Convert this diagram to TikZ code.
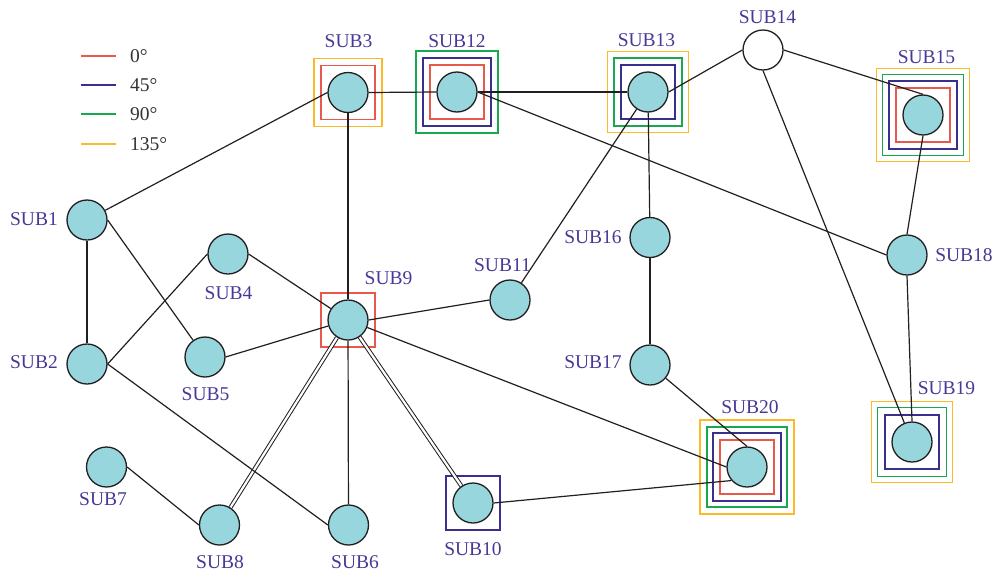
\documentclass[tikz,border=0pt]{standalone}
\usepackage{fontspec}
\setmainfont{Liberation Serif}
\usetikzlibrary{calc}
\definecolor{edgecol}{RGB}{35,31,32}
\definecolor{subfill}{RGB}{152,214,222}
\definecolor{lblcol}{RGB}{70,58,150}
\definecolor{legtext}{RGB}{51,51,51}
\definecolor{czero}{RGB}{232,88,76}
\definecolor{cfortyfive}{RGB}{56,48,140}
\definecolor{cninety}{RGB}{24,168,80}
\definecolor{conethirtyfive}{RGB}{252,186,40}
\pgfdeclarelayer{frames}
\pgfdeclarelayer{links}
\pgfsetlayers{frames,links,main}
\begin{document}
\begin{tikzpicture}[x=1pt,y=-1pt,
  sub/.style={circle, draw=edgecol, fill=subfill, line width=1.3pt,
    minimum size=40pt, inner sep=0pt},
  hub/.style={sub, fill=white},
  lbl/.style={text=lblcol, font=\fontsize{19.5}{21}\selectfont, inner sep=0pt},
  legtxt/.style={text=legtext, font=\fontsize{19.5}{21}\selectfont, inner sep=0pt, anchor=west},
  link/.style={draw=edgecol, line width=1.2pt},
  dlink/.style={draw=edgecol, line width=1pt, double=white, double distance=2.2pt},
  ring/.style 2 args={rectangle, draw=#1, line width=1.3pt, inner sep=0pt,
    minimum size=#2}
]
\useasboundingbox (0,0) rectangle (999,576);

% legend
\foreach \y/\c/\t [count=\i] in {56/czero/0, 85/cfortyfive/45, 114/cninety/90, 144/conethirtyfive/135}{
  \coordinate (la\i) at (81,\y);
  \coordinate (lb\i) at (116,\y);
  \draw[\c, line width=1.3pt] (la\i) -- (lb\i);
  \node[legtxt] (lt\i) at (130,\y) {\t°};
}

% substations
\node[sub] (s1)  at (87,220)  {};
\node[sub] (s2)  at (87,364)  {};
\node[sub] (s3)  at (348,92.5) {};
\node[sub] (s4)  at (228,254) {};
\node[sub] (s5)  at (205,357) {};
\node[sub] (s6)  at (348.5,525) {};
\node[sub] (s7)  at (106.5,467) {};
\node[sub] (s8)  at (219.5,525) {};
\node[sub] (s9)  at (348,320) {};
\node[sub] (s10) at (473,503) {};
\node[sub] (s11) at (510,300) {};
\node[sub] (s12) at (457,92)  {};
\node[sub] (s13) at (648,92)  {};
\node[hub] (s14) at (763,50)  {};
\node[sub] (s15) at (923,115) {};
\node[sub] (s16) at (650,237.5) {};
\node[sub] (s17) at (650,365) {};
\node[sub] (s18) at (907,255) {};
\node[sub] (s19) at (912,442) {};
\node[sub] (s20) at (747,467) {};

% labels
\node[lbl] (n1)  at (34,219)    {SUB1};
\node[lbl] (n2)  at (34,362)    {SUB2};
\node[lbl] (n3)  at (348.5,41)  {SUB3};
\node[lbl] (n4)  at (228.5,293) {SUB4};
\node[lbl] (n5)  at (205.5,394) {SUB5};
\node[lbl] (n6)  at (355,562)   {SUB6};
\node[lbl] (n7)  at (103,499)   {SUB7};
\node[lbl] (n8)  at (220,562)   {SUB8};
\node[lbl] (n9)  at (388.5,278) {SUB9};
\node[lbl] (n10) at (473,549)   {SUB10};
\node[lbl] (n11) at (502.5,265) {SUB11};
\node[lbl] (n12) at (457,41)    {SUB12};
\node[lbl] (n13) at (646.5,40)  {SUB13};
\node[lbl] (n14) at (767.5,17)  {SUB14};
\node[lbl] (n15) at (926.5,57)  {SUB15};
\node[lbl] (n16) at (593,237)   {SUB16};
\node[lbl] (n17) at (593,362)   {SUB17};
\node[lbl] (n18) at (964,255)   {SUB18};
\node[lbl] (n19) at (946.5,388) {SUB19};
\node[lbl] (n20) at (750,407)   {SUB20};

% angle frames around substations
\begin{pgfonlayer}{frames}
  \node[ring={czero}{54pt}] (f3a) at (s3.center) {};
  \node[ring={conethirtyfive}{68pt}] (f3b) at (s3.center) {};
  \node[ring={czero}{54pt}] (f9a) at (s9.center) {};
  \node[ring={czero}{54pt}] (f12a) at (s12.center) {};
  \node[ring={cfortyfive}{68pt}] (f12b) at (s12.center) {};
  \node[ring={cninety}{82pt}] (f12c) at (s12.center) {};
  \node[ring={cfortyfive}{54pt}] (f13a) at (s13.center) {};
  \node[ring={cninety}{68pt}] (f13b) at (s13.center) {};
  \node[ring={conethirtyfive}{81pt}] (f13c) at (s13.center) {};
  \node[ring={czero}{54pt}] (f15a) at (s15.center) {};
  \node[ring={cfortyfive}{68pt}] (f15b) at (s15.center) {};
  \node[ring={cninety}{81pt}] (f15c) at (s15.center) {};
  \node[ring={conethirtyfive}{93pt}] (f15d) at (s15.center) {};
  \node[ring={cfortyfive}{54pt}] (f19a) at (s19.center) {};
  \node[ring={cninety}{69pt}] (f19b) at (s19.center) {};
  \node[ring={conethirtyfive}{81pt}] (f19c) at (s19.center) {};
  \node[ring={czero}{54pt}] (f20a) at (s20.center) {};
  \node[ring={cfortyfive}{68pt}] (f20b) at (s20.center) {};
  \node[ring={cninety}{80pt}] (f20c) at (s20.center) {};
  \node[ring={conethirtyfive}{94pt}] (f20d) at (s20.center) {};
  \node[ring={cfortyfive}{54pt}] (f10a) at (s10.center) {};
\end{pgfonlayer}

% connections
\begin{pgfonlayer}{links}
  \draw[dlink] (s9) -- (s8);
  \draw[dlink] (s9) -- (s10);
  \draw[link] (s1) -- (s3.west);
  \draw[link] (s1) -- (s2);
  \draw[link] (s1.east) -- (s5);
  \draw[link] (s2.east) -- (s4.west);
  \draw[link] (s2.east) -- (s6.west);
  \draw[link] (s3.east) -- (s12.west);
  \draw[link] (s3) -- (s9);
  \draw[link] (s12.east) -- (s13.west);
  \draw[link] (s12.east) -- (s18.west);
  \draw[link] (s13.east) -- (s14.west);
  \draw[link] (s13) -- (s11);
  \draw[link] (s13) -- (s16);
  \draw[link] (s14.east) -- (s15.north);
  \draw[link] (s14.south) -- (s19);
  \draw[link] (s15.south) -- (s18.north);
  \draw[link] (s18.south) -- (s19.north);
  \draw[link] (s16) -- (s17);
  \draw[link] (s17) -- (s20.north);
  \draw[link] (s4.east) -- (s9);
  \draw[link] (s5.east) -- (s9);
  \draw[link] (s9.east) -- (s11.west);
  \draw[link] (s9) -- (s20.west);
  \draw[link] (s9) -- (s6);
  \draw[link] (s7.east) -- (s8.west);
  \draw[link] (s10.east) -- (s20.221);
\end{pgfonlayer}
\end{tikzpicture}
\end{document}
